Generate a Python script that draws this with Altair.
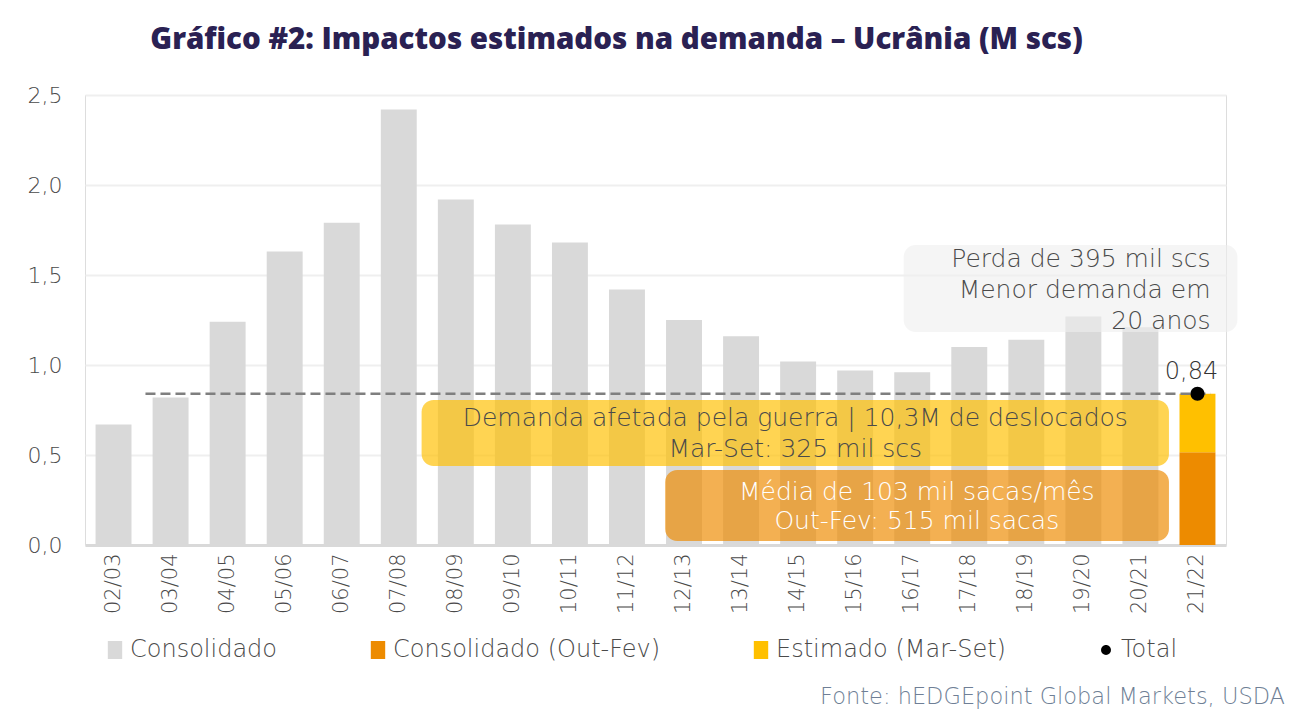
import altair as alt
import pandas as pd

# ---------------- data ----------------
seasons = ["02/03", "03/04", "04/05", "05/06", "06/07", "07/08", "08/09", "09/10",
           "10/11", "11/12", "12/13", "13/14", "14/15", "15/16", "16/17", "17/18",
           "18/19", "19/20", "20/21", "21/22"]
consolidado = [0.67, 0.82, 1.24, 1.63, 1.79, 2.42, 1.92, 1.78, 1.68, 1.42,
               1.25, 1.16, 1.02, 0.97, 0.96, 1.10, 1.14, 1.27, 1.21, None]
out_fev_2122 = 0.515
mar_set_2122 = 0.325
total_2122 = 0.84
total_label = "0,84"

series_names = ["Consolidado", "Consolidado (Out-Fev)", "Estimado (Mar-Set)", "Total"]
series_colors = ["#d9d9d9", "#ed8b00", "#ffc000", "#000000"]

title_text = "Gráfico #2: Impactos estimados na demanda – Ucrânia (M scs)"
footer_text = "Fonte: hEDGEpoint Global Markets, USDA"

gray_box_lines = ["Perda de 395 mil scs", "Menor demanda em", "20 anos"]
yellow_box_lines = ["Demanda afetada pela guerra | 10,3M de deslocados", "Mar-Set: 325 mil scs"]
orange_box_lines = ["Média de 103 mil sacas/mês", "Out-Fev: 515 mil sacas"]

# ---------------- tables ----------------
rows = []
for s, v in zip(seasons, consolidado):
    if v is not None:
        rows.append({"season": s, "series": "Consolidado", "value": v, "ord": 0})
rows.append({"season": "21/22", "series": "Consolidado (Out-Fev)", "value": out_fev_2122, "ord": 1})
rows.append({"season": "21/22", "series": "Estimado (Mar-Set)", "value": mar_set_2122, "ord": 2})
bars_df = pd.DataFrame(rows)

total_df = pd.DataFrame({"season": ["21/22"], "series": ["Total"], "value": [total_2122],
                         "label": [total_label]})

FONT = "DejaVu Sans"
FW = 200
TXT = "#4a4a4a"
W, H = 1141, 450

band = alt.Scale(domain=seasons, paddingInner=0.37, paddingOuter=0.185)
slot = alt.Scale(domain=[0, 20])
yscale = alt.Scale(domain=[0, 2.5])

bar_path = "M-0.8,-1H0.8V1H-0.8Z"
dot_path = "M-0.55,0A0.55,0.55 0 1,0 0.55,0A0.55,0.55 0 1,0 -0.55,0Z"
legend_shapes = [bar_path, bar_path, bar_path, dot_path]

leg = dict(title=None, orient="none", legendX=18, legendY=543, direction="horizontal",
           columns=4, columnPadding=88, labelFontSize=24, labelColor=TXT, labelFont=FONT,
           labelFontWeight=FW,
           symbolSize=324, labelOffset=3, labelLimit=0, symbolStrokeWidth=0)

bars = alt.Chart(bars_df).mark_bar().encode(
    x=alt.X("season:N", scale=band, sort=seasons,
            axis=alt.Axis(title=None, labelAngle=270, labelFontSize=21, labelColor=TXT,
                          labelFont=FONT, labelFontWeight=FW, ticks=False,
                          domainColor="#d9d9d9", domainWidth=3,
                          labelPadding=8, grid=False)),
    y=alt.Y("value:Q", stack="zero", scale=yscale,
            axis=alt.Axis(title=None, values=[0, 0.5, 1, 1.5, 2, 2.5],
                          labelExpr="replace(format(datum.value, '.1f'), '.', ',')",
                          grid=True, gridColor="#efefef", gridWidth=2, domain=False,
                          ticks=False, labelFontSize=22, labelColor=TXT, labelFont=FONT,
                          labelFontWeight=FW, labelPadding=23)),
    color=alt.Color("series:N", scale=alt.Scale(domain=series_names, range=series_colors),
                    legend=alt.Legend(**leg)),
    order=alt.Order("ord:Q"),
)

dash_df = pd.DataFrame({"x0": [1.06], "x1": [19.73], "y": [total_2122]})
dash = alt.Chart(dash_df).mark_rule(strokeDash=[10, 5], strokeWidth=2.5, color="#7f7f7f").encode(
    x=alt.X("x0:Q", scale=slot, axis=None), x2="x1:Q", y=alt.Y("y:Q", scale=yscale))

def box(x0, x1, y0, y1, fill, op):
    d = pd.DataFrame({"x0": [x0], "x1": [x1], "y0": [y0], "y1": [y1]})
    return alt.Chart(d).mark_rect(cornerRadius=12, fill=fill, opacity=op).encode(
        x=alt.X("x0:Q", scale=slot, axis=None), x2="x1:Q",
        y=alt.Y("y0:Q", scale=yscale), y2="y1:Q")

gray_box = box(14.35, 20.2, 1.667, 1.183, "#eeeeee", 0.6)
yellow_box = box(5.90, 19.0, 0.806, 0.439, "#ffc000", 0.68)
orange_box = box(10.17, 19.0, 0.417, 0.022, "#ed8b00", 0.68)

def lines(texts, x, ys, align, color, size):
    d = pd.DataFrame({"t": texts, "x": [x] * len(texts), "y": ys})
    return alt.Chart(d).mark_text(align=align, baseline="middle", font=FONT, fontSize=size,
                                  fontWeight=FW, color=color).encode(
        x=alt.X("x:Q", scale=slot, axis=None), y=alt.Y("y:Q", scale=yscale), text="t:N")

gray_txt = lines(gray_box_lines, 19.73, [1.589, 1.417, 1.244], "right", TXT, 25)
yellow_txt = lines(yellow_box_lines, 12.45, [0.706, 0.533], "center", TXT, 25)
orange_txt = lines(orange_box_lines, 14.58, [0.294, 0.133], "center", "#ffffff", 25)

point = alt.Chart(total_df).mark_point(filled=True, opacity=1, size=648).encode(
    x=alt.X("season:N", scale=band, axis=None),
    y=alt.Y("value:Q", scale=yscale),
    color=alt.Color("series:N", scale=alt.Scale(domain=series_names, range=series_colors),
                    legend=alt.Legend(**leg)),
    shape=alt.Shape("series:N", scale=alt.Scale(domain=series_names, range=legend_shapes),
                    legend=alt.Legend(**leg)),
)

point_lbl = alt.Chart(total_df).mark_text(font=FONT, fontSize=24, fontWeight=FW,
                                          color="#333333", dy=-22, dx=-6).encode(
    x=alt.X("season:N", scale=band, axis=None),
    y=alt.Y("value:Q", scale=yscale), text="label:N")

footer = alt.Chart(pd.DataFrame({"t": [footer_text]})).mark_text(
    align="right", baseline="middle", font=FONT, fontSize=22.5, fontWeight=FW,
    color="#6f7f96").encode(
    x=alt.value(1200), y=alt.value(602), text="t:N")

chart = alt.layer(
    bars, dash, gray_box, yellow_box, orange_box, gray_txt, yellow_txt, orange_txt,
    point, point_lbl, footer
).resolve_scale(x="independent").properties(
    width=W, height=H,
    padding={"left": 85, "top": 95, "right": 75, "bottom": 180},
    autosize=alt.AutoSizeParams(type="none"),
    title=alt.TitleParams(title_text, font="Open Sans", fontSize=29.5, fontWeight=800,
                          color="#2a2153", anchor="middle", dx=-39, offset=29),
).configure_view(stroke=None).configure(background="#ffffff")

chart.save("out.html", embed_options={"renderer": "svg", "actions": False})
